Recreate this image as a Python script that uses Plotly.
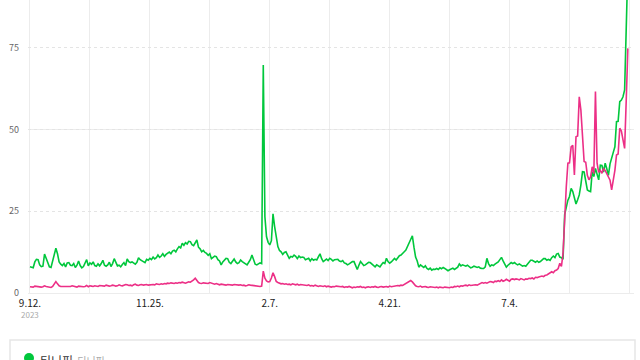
import pandas as pd
import plotly.graph_objects as go

start_date = "2023-09-12"

green_values = [
    8.0, 7.9, 7.7, 9.5, 10.3, 10.2, 8.6, 8.1, 8.2, 11.9,
    10.5, 9.3, 8.0, 7.8, 10.0, 11.5, 13.7, 12.0, 9.5, 8.8,
    8.4, 9.0, 8.0, 9.2, 9.3, 8.5, 8.4, 9.0, 7.8, 8.5,
    9.8, 8.4, 7.7, 8.1, 9.0, 10.2, 8.3, 9.2, 8.8, 9.5,
    8.4, 8.2, 8.9, 8.3, 9.0, 10.0, 8.5, 8.2, 8.6, 9.4,
    8.1, 9.0, 10.5, 9.2, 8.3, 8.5, 8.0, 8.7, 9.3, 8.4,
    10.4, 9.6, 9.3, 9.5, 9.1, 8.8, 9.4, 10.8, 10.2, 9.8,
    9.5, 9.3, 10.3, 10.0, 10.6, 10.2, 11.0, 10.4, 10.8, 11.6,
    10.9, 11.3, 12.0, 11.2, 11.8, 12.1, 12.5, 12.0, 12.8, 13.1,
    12.6, 13.5, 14.2, 13.8, 15.2, 14.6, 15.4, 15.0, 15.8, 15.7,
    14.8, 14.5, 15.6, 16.2, 14.0, 13.5, 12.6, 13.0, 12.4, 12.1,
    11.5, 12.0, 10.5, 10.8, 11.3, 11.1, 10.2, 9.8, 8.6, 9.5,
    10.0, 10.6, 10.5, 9.4, 9.0, 9.6, 10.4, 9.5, 9.0, 9.3,
    10.1, 9.6, 9.2, 8.9, 8.6, 9.4, 10.2, 11.6, 9.8, 8.8,
    8.6, 8.9, 9.2, 9.0, 69.7, 23.3, 17.2, 15.5, 14.7, 16.0,
    24.2, 20.3, 16.5, 14.2, 13.0, 12.6, 11.8, 12.4, 12.6, 11.5,
    10.6, 11.2, 11.0, 11.6, 11.2, 10.5, 11.3, 10.8, 11.0, 10.9,
    10.2, 10.4, 10.6, 9.8, 10.5, 10.0, 10.3, 10.1, 11.2, 12.0,
    10.5, 9.6, 10.0, 10.4, 9.9, 10.6, 10.3, 9.8, 10.2, 10.3,
    10.3, 9.8, 9.6, 9.9, 9.2, 9.0, 8.6, 8.9, 9.3, 9.6,
    9.6, 8.4, 7.2, 8.5, 9.6, 9.0, 8.4, 8.6, 8.9, 9.4,
    9.3, 8.8, 8.4, 8.0, 8.6, 8.2, 8.0, 8.7, 9.3, 9.0,
    10.6, 9.6, 9.1, 9.5, 10.2, 10.6, 10.1, 10.8, 11.4, 11.6,
    12.0, 12.6, 13.1, 14.2, 15.0, 16.3, 17.5, 14.0, 11.0, 9.8,
    7.9, 8.6, 8.2, 7.8, 8.3, 7.5, 7.2, 7.6, 7.0, 7.3,
    7.2, 7.5, 7.2, 7.7, 7.4, 7.8, 7.5, 7.2, 6.8, 7.1,
    7.3, 7.6, 7.2, 7.5, 7.9, 8.9, 8.3, 8.6, 8.5, 8.2,
    8.5, 8.0, 7.7, 7.9, 8.2, 8.0, 7.8, 8.0, 7.6, 7.5,
    7.5, 8.0, 10.6, 9.0, 8.2, 8.6, 8.4, 8.8, 9.2, 9.5,
    10.2, 10.9, 9.8, 8.6, 7.9, 8.5, 8.8, 9.3, 9.0, 9.3,
    8.9, 8.6, 8.9, 8.5, 8.2, 8.4, 8.2, 8.8, 9.5, 10.0,
    10.0, 9.6, 9.4, 9.8, 9.4, 9.6, 10.2, 10.5, 10.5, 10.0,
    10.3, 10.0, 10.8, 11.3, 10.8, 11.9, 12.1, 11.0, 10.8, 10.3,
    24.0, 26.4, 28.4, 29.5, 32.0, 31.0, 29.0, 27.2, 28.5, 30.0,
    33.0, 37.1, 37.0, 33.5, 31.5, 31.2, 31.0, 37.1, 35.6, 38.1,
    36.0, 34.6, 39.1, 39.0, 37.0, 39.7, 38.0, 36.0, 39.5, 41.7,
    43.0, 44.7, 52.4, 52.5, 58.5, 59.0, 60.0, 62.1, 81.4, 100.0,
]

pink_values = [
    1.9, 1.9, 1.8, 2.1, 2.0, 1.9, 2.0, 1.8, 1.9, 2.2,
    2.0, 1.9, 1.8, 1.7, 2.0, 2.6, 3.5, 2.8, 2.2, 2.0,
    2.0, 1.9, 2.0, 2.1, 1.9, 2.0, 2.2, 2.1, 1.9, 1.8,
    2.1, 2.0, 1.8, 1.9, 2.0, 2.3, 1.9, 2.2, 2.1, 2.0,
    2.2, 2.1, 2.0, 2.3, 2.2, 2.0, 2.1, 2.4, 2.2, 2.1,
    2.2, 2.4, 2.3, 2.1, 2.2, 2.5, 2.3, 2.2, 2.4, 2.6,
    2.5, 2.3, 2.4, 2.2, 2.5, 2.7, 2.4, 2.3, 2.5, 2.6,
    2.4, 2.5, 2.6, 2.4, 2.5, 2.7, 2.6, 2.5, 2.8, 2.7,
    2.6, 2.8, 2.7, 2.9, 2.8, 3.0, 2.9, 3.1, 3.0, 2.9,
    3.1, 3.0, 3.2, 3.1, 3.3, 3.2, 3.0, 3.2, 3.4, 3.3,
    3.6, 4.0, 4.5, 3.8, 3.2, 3.0, 2.9, 3.1, 3.0, 2.8,
    2.9, 3.2, 3.0, 2.8, 2.7, 2.9, 2.6, 2.5, 2.7, 2.6,
    2.5, 2.4, 2.6, 2.5, 2.3, 2.4, 2.6, 2.5, 2.3, 2.4,
    2.5, 2.3, 2.4, 2.2, 2.3, 2.5, 2.4, 2.3, 2.2, 2.1,
    2.2, 2.1, 2.0, 2.1, 6.7, 4.5, 3.7, 3.4, 3.5, 4.6,
    6.2, 5.0, 3.5, 3.2, 3.0, 2.8, 2.9, 2.7, 2.8, 2.6,
    2.7, 2.5, 2.8, 2.6, 2.5, 2.7, 2.4, 2.6, 2.5, 2.3,
    2.4, 2.3, 2.5, 2.2, 2.3, 2.1, 2.4, 2.2, 2.0, 2.2,
    2.1, 2.0, 2.2, 1.9, 2.1, 2.0, 1.8, 2.0, 1.9, 2.1,
    2.0, 1.8, 1.9, 2.0, 1.7, 1.9, 1.8, 2.0, 1.8, 1.6,
    1.8, 1.7, 1.9, 1.8, 2.0, 1.7, 1.8, 1.6, 1.8, 1.9,
    1.7, 1.9, 1.8, 2.0, 1.8, 1.7, 1.9, 2.0, 1.8, 1.9,
    2.0, 1.8, 2.1, 1.9, 2.0, 2.2, 2.1, 2.3, 2.2, 2.4,
    2.3, 2.6, 2.8, 3.2, 3.5, 3.8, 3.4, 2.6, 2.2, 2.0,
    1.9, 2.1, 1.8, 1.9, 2.0, 1.8, 1.7, 1.9, 1.8, 1.6,
    1.7, 1.8, 1.6, 1.8, 1.7, 1.6, 1.8, 1.7, 1.6, 1.6,
    1.8, 1.7, 2.0, 1.9, 2.1, 1.9, 2.2, 2.1, 2.3, 2.4,
    2.2, 2.5, 2.3, 2.4, 2.6, 2.5, 2.4, 2.7, 2.9, 3.2,
    3.0, 3.2, 3.0, 3.3, 3.5, 3.4, 3.2, 3.6, 3.5, 3.8,
    3.5, 4.0, 3.6, 3.8, 4.2, 3.9, 3.6, 4.2, 4.3, 4.1,
    4.3, 4.2, 4.0, 4.4, 4.1, 4.0, 4.3, 4.2, 4.5, 4.4,
    4.6, 4.3, 4.8, 4.7, 4.9, 5.0, 5.2, 5.0, 5.4, 5.5,
    5.8, 6.1, 6.5, 6.2, 6.8, 7.0, 7.5, 9.1, 8.1, 12.1,
    25.0, 32.5, 39.7, 39.8, 44.7, 45.2, 36.1, 47.8, 48.0, 60.0,
    56.0, 46.8, 40.2, 40.0, 36.0, 34.6, 35.5, 38.6, 36.5, 61.6,
    39.7, 36.9, 37.5, 36.6, 38.0, 37.5, 36.6, 35.6, 34.5, 31.5,
    34.5, 37.5, 42.2, 42.5, 50.4, 49.5, 46.8, 44.2, 59.0, 74.8,
]

tick_dates = ["2023-09-12", "2023-11-25", "2024-02-07", "2024-04-21", "2024-07-04"]
tick_labels = ["9.12.", "11.25.", "2.7.", "4.21.", "7.4."]
y_ticks = [0, 25, 50, 75]
legend_name = "티니핑"
legend_terms = "티니핑"

green_dates = pd.date_range(start_date, periods=len(green_values), freq="D")
pink_dates = pd.date_range(start_date, periods=len(pink_values), freq="D")

GREEN = "#00c73c"
PINK = "#ec2f86"
FONT = "Noto Sans CJK KR"

fig = go.Figure()
fig.add_trace(go.Scatter(x=green_dates, y=green_values, mode="lines",
                         line=dict(color=GREEN, width=1.6), name=legend_name))
fig.add_trace(go.Scatter(x=pink_dates, y=pink_values, mode="lines",
                         line=dict(color=PINK, width=1.6), name="pink"))

# solid gridline at 50
fig.add_hline(y=50, line=dict(color="#ececec", width=1), layer="below")

L, R, T, B = 28, 6, 0, 67
W, H = 640, 360
pw, ph = W - L - R, H - T - B


def px(xp):
    return (xp - L) / pw


def py(yp):
    return (H - B - yp) / ph


# legend box
fig.add_shape(type="rect", xref="paper", yref="paper",
              x0=px(10), x1=px(635), y0=py(375), y1=py(340),
              line=dict(color="#e6e6e6", width=1.5), fillcolor="rgba(0,0,0,0)")
fig.add_shape(type="circle", xref="paper", yref="paper",
              x0=px(24), x1=px(34), y0=py(363), y1=py(353),
              line=dict(color=GREEN, width=0), fillcolor=GREEN)
fig.add_annotation(xref="paper", yref="paper", x=px(38), y=py(360),
                   text=legend_name, showarrow=False, xanchor="left", yanchor="middle",
                   font=dict(family=FONT, size=12, color="#333"))
fig.add_annotation(xref="paper", yref="paper", x=px(68), y=py(361),
                   text="|  " + legend_terms, showarrow=False, xanchor="left", yanchor="middle",
                   font=dict(family=FONT, size=10, color="#aaa"))
fig.add_annotation(xref="paper", yref="paper", x=px(30), y=py(314),
                   text="2023", showarrow=False, xanchor="center", yanchor="middle",
                   font=dict(family=FONT, size=8, color="#aaa"))

fig.update_layout(
    width=W, height=H,
    margin=dict(l=L, r=R, t=T, b=B, autoexpand=False),
    paper_bgcolor="white", plot_bgcolor="white",
    showlegend=False,
    font=dict(family=FONT),
    xaxis=dict(
        type="date", automargin=False,
        range=["2023-09-10 19:00", "2024-09-18 19:00"],
        tickmode="array", tickvals=tick_dates, ticktext=tick_labels,
        tickfont=dict(family=FONT, size=10, color="#222"),
        showgrid=True, gridcolor="#ececec", gridwidth=1,
        minor=dict(tick0="2023-09-12", dtick=37 * 86400000, showgrid=True,
                   gridcolor="#ececec", gridwidth=1),
        showline=True, linecolor="#ececec", linewidth=1,
        ticks="", ticklabelstandoff=1,
        zeroline=False,
    ),
    yaxis=dict(
        range=[0, 89.6], automargin=False,
        tickmode="array", tickvals=y_ticks,
        tickfont=dict(family=FONT, size=9, color="#666"),
        showgrid=True, gridcolor="#e4e4e4", griddash="dot", gridwidth=1,
        ticks="", ticklabelstandoff=8,
        zeroline=False, showline=False,
    ),
)

fig.write_html("out.html", config={"displayModeBar": False},
               post_script="document.body.style.margin='0';")
